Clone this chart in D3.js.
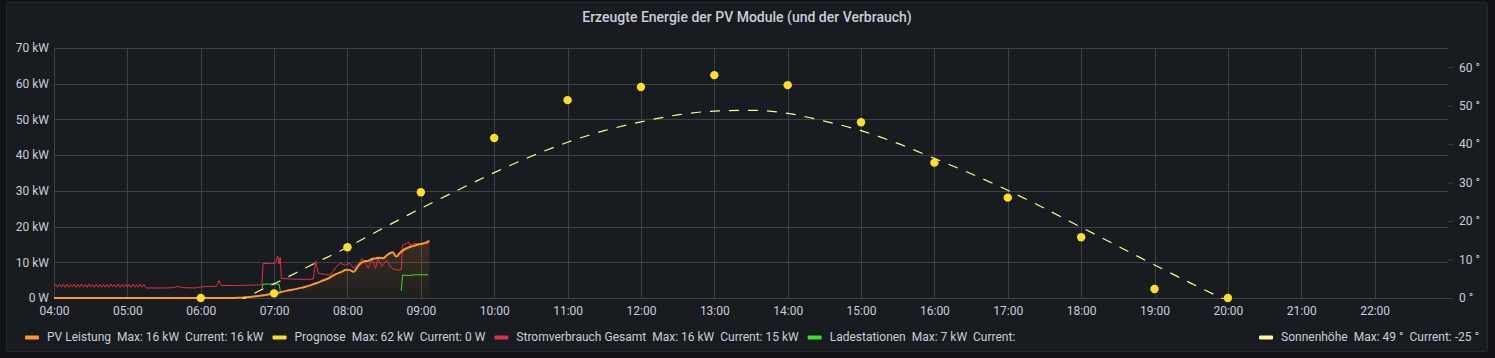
<!DOCTYPE html>
<html>
<head>
<meta charset="utf-8">
<script src="https://cdn.jsdelivr.net/npm/d3@7"></script>
<style>
  html, body { margin: 0; padding: 0; background: #111217; }
  svg { display: block; }
  text { font-family: Roboto, "Noto Sans", sans-serif; }
</style>
</head>
<body>
<svg id="chart" width="1495" height="358"></svg>
<script>
// ---------------- DATA ----------------
const chartTitle = "Erzeugte Energie der PV Module (und der Verbrauch)";
const xTickLabels = ["04:00","05:00","06:00","07:00","08:00","09:00","10:00","11:00","12:00","13:00","14:00","15:00","16:00","17:00","18:00","19:00","20:00","21:00","22:00"];
const xDomain = ["04:00", "23:00"];
const leftTicks = [0, 10, 20, 30, 40, 50, 60, 70];      // kW
const rightTicks = [0, 10, 20, 30, 40, 50, 60];         // degrees
const leftMax = 70;
const rightMax = 65;

// PV Leistung [time, kW]
const pvLeistung = [
  ["04:00",0],["06:25",0],["06:30",0.05],["06:35",0.15],["06:40",0.3],["06:45",0.5],["06:50",0.7],["06:55",0.95],
  ["07:00",1.2],["07:05",1.6],["07:10",2.0],["07:15",2.3],["07:20",2.7],["07:25",3.1],["07:30",3.6],["07:35",4.2],
  ["07:40",4.9],["07:45",5.6],["07:50",6.6],["07:55",7.3],["07:59",7.9],["08:02",7.8],["08:05",7.3],["08:08",8.6],
  ["08:11",9.8],["08:14",10.3],["08:17",10.4],["08:20",10.9],["08:23",11.1],["08:26",11.3],["08:29",11.1],
  ["08:32",11.9],["08:35",12.6],["08:37",12.8],["08:40",11.6],["08:43",12.7],["08:46",13.5],["08:49",14.0],
  ["08:52",14.4],["08:55",14.7],["08:58",15.0],["09:01",15.2],["09:04",15.5],["09:07",16.0]
];

// Prognose (hourly points) [time, kW]
const prognose = [
  ["06:00",0],["07:00",1.3],["08:00",14.2],["09:00",29.6],["10:00",44.8],["11:00",55.4],["12:00",59.1],
  ["13:00",62.4],["14:00",59.6],["15:00",49.2],["16:00",37.9],["17:00",28.1],["18:00",17.0],["19:00",2.5],["20:00",0]
];

// Stromverbrauch Gesamt: early ripple section sampled every 90 s from 04:00 (kW)
const stromRippleStart = "04:00";
const stromRippleStepMin = 1.5;
const stromRipple = [
  3.2,3.8,3.0,3.9,3.0,3.8,3.0,3.9,3.0,3.8,3.1,3.9,3.0,3.8,3.0,3.9,3.0,3.8,3.0,3.9,
  3.1,3.8,3.0,3.9,3.0,3.8,3.0,3.9,3.0,3.8,3.0,3.9,3.1,3.8,3.0,3.9,3.0,3.8,3.0,3.9,
  3.0,3.8,3.0,3.9,3.0,3.8,3.0,3.9,3.0,3.8,2.9
];
// Stromverbrauch Gesamt after the ripple [time, kW]
const stromRest = [
  ["05:16",2.8],["05:30",2.8],["05:37",2.9],["05:41",3.2],["05:46",2.9],["05:55",2.8],["06:00",3.1],["06:05",3.2],
  ["06:13",3.3],["06:15",4.9],["06:17",3.5],["06:30",3.5],["06:40",3.6],["06:50",3.7],["06:51",9.7],["06:58",9.6],
  ["07:01",9.8],["07:03",11.8],["07:04",9.5],["07:05",11.4],["07:06",5.5],["07:15",5.3],["07:25",5.2],["07:32",5.3],
  ["07:34",10.4],["07:36",6.9],["07:42",6.6],["07:46",6.4],["07:48",7.4],["07:51",8.8],["07:54",9.7],["07:58",9.2],
  ["08:02",9.7],["08:05",8.3],["08:09",9.7],["08:12",11.1],["08:14",10.2],["08:17",8.3],["08:20",10.8],["08:23",8.3],
  ["08:25",11.1],["08:28",8.8],["08:32",10.6],["08:35",8.8],["08:38",8.0],["08:42",7.8],["08:44",8.0],["08:45",14.8],
  ["08:48",15.2],["08:50",15.8],["08:51",14.8],["08:55",15.3],["09:00",15.0],["09:02",15.1],["09:06",15.3]
];

// Ladestationen [time, kW] (null = no data)
const ladestationen = [
  ["06:50",2.6],["06:51",3.9],["07:04",3.9],["07:05",2.1],["07:06",null],
  ["08:44",2.0],["08:45",6.4],["08:50",6.3],["08:55",6.5],["09:06",6.5]
];

// Sonnenhöhe [time, degrees]
const sonnenhoehe = [
  ["06:30",-1.0],["06:50",2.2],["07:00",3.7],["07:30",8.5],["08:00",13.2],["08:30",18.3],["09:00",23.3],["09:30",28.0],
  ["10:00",32.6],["10:30",36.8],["11:00",40.5],["11:30",43.5],["12:00",45.8],["12:30",47.6],["13:00",48.6],
  ["13:30",48.8],["14:00",48.0],["14:30",46.0],["15:00",43.5],["15:30",40.2],["16:00",36.3],["16:30",32.3],
  ["17:00",28.0],["17:30",23.3],["18:00",18.4],["18:30",13.5],["19:00",8.6],["19:30",3.8],["20:00",-0.8],["20:15",-3.0]
];

// Legend
const legendLeft = [
  { name: "PV Leistung", max: "Max: 16 kW", cur: "Current: 16 kW", color: "#FF9830" },
  { name: "Prognose", max: "Max: 62 kW", cur: "Current: 0 W", color: "#FADE2A" },
  { name: "Stromverbrauch Gesamt", max: "Max: 16 kW", cur: "Current: 15 kW", color: "#E02F44" },
  { name: "Ladestationen", max: "Max: 7 kW", cur: "Current:", color: "#2EE82E" }
];
const legendRight = { name: "Sonnenhöhe", max: "Max: 49 °", cur: "Current: -25 °", color: "#FFF899" };

// ---------------- DRAW ----------------
const W = 1495, H = 358;
const plot = { left: 54, right: 1448, top: 48, bottom: 298 };
const textColor = "#ccccdc";
const gridColor = "#3f4046";

const parseT = d3.timeParse("%Y-%m-%d %H:%M");
const T = s => parseT("2023-06-01 " + s);

const x = d3.scaleTime().domain(xDomain.map(T)).range([plot.left, plot.right]);
const yL = d3.scaleLinear().domain([0, leftMax]).range([plot.bottom, plot.top]);
const yR = d3.scaleLinear().domain([0, rightMax]).range([plot.bottom, plot.top]);

const svg = d3.select("#chart");

// panel
svg.append("rect").attr("x", 0).attr("y", 0).attr("width", W).attr("height", H).attr("fill", "#111217");
svg.append("rect").attr("x", 6.5).attr("y", 2.5).attr("width", 1481).attr("height", 349)
  .attr("rx", 2).attr("fill", "#181b1f").attr("stroke", "#26282d");

// title
svg.append("text").attr("x", 747).attr("y", 22).attr("text-anchor", "middle")
  .attr("fill", textColor).attr("font-size", 14).attr("font-weight", 500)
  .text(chartTitle);

// grid
const xTickDates = xTickLabels.map(T);
const gGrid = svg.append("g");
gGrid.selectAll("line.h").data(leftTicks).join("line")
  .attr("x1", plot.left).attr("x2", plot.right)
  .attr("y1", d => Math.round(yL(d)) + 0.5).attr("y2", d => Math.round(yL(d)) + 0.5)
  .attr("stroke", gridColor).attr("stroke-width", 1);
gGrid.selectAll("line.v").data(xTickDates).join("line")
  .attr("x1", d => Math.round(x(d)) + 0.5).attr("x2", d => Math.round(x(d)) + 0.5)
  .attr("y1", plot.top).attr("y2", plot.bottom)
  .attr("stroke", gridColor).attr("stroke-width", 1);

// axes
const fmtKW = d => d === 0 ? "0 W" : d + " kW";
const axL = svg.append("g").attr("transform", `translate(${plot.left - 5},0)`)
  .call(d3.axisLeft(yL).tickValues(leftTicks).tickFormat(fmtKW).tickSize(0).tickPadding(0));
const axR = svg.append("g").attr("transform", `translate(${plot.right},0)`)
  .call(d3.axisRight(yR).tickValues(rightTicks).tickFormat(d => d + " °").tickSize(5).tickPadding(6));
const axB = svg.append("g").attr("transform", `translate(0,${plot.bottom + 8})`)
  .call(d3.axisBottom(x).tickValues(xTickDates).tickFormat(d3.timeFormat("%H:%M")).tickSize(0).tickPadding(0));
[axL, axR, axB].forEach(a => {
  a.select(".domain").remove();
  a.selectAll("text").attr("fill", textColor).attr("font-size", 12).attr("font-family", "Roboto, sans-serif");
  a.selectAll("line").attr("stroke", gridColor);
});
axB.selectAll("text").attr("dy", "0.71em");

// clip
svg.append("defs").append("clipPath").attr("id", "clip")
  .append("rect").attr("x", plot.left).attr("y", plot.top)
  .attr("width", plot.right - plot.left).attr("height", plot.bottom - plot.top + 1);

const grad = svg.select("defs").append("linearGradient").attr("id", "pvgrad")
  .attr("gradientUnits", "userSpaceOnUse")
  .attr("x1", 0).attr("x2", 0).attr("y1", yL(16)).attr("y2", plot.bottom);
grad.append("stop").attr("offset", 0).attr("stop-color", "#FF9830").attr("stop-opacity", 0.16);
grad.append("stop").attr("offset", 1).attr("stop-color", "#FF9830").attr("stop-opacity", 0.03);

const gPlot = svg.append("g").attr("clip-path", "url(#clip)");

// PV area
const pvData = pvLeistung.map(d => ({ t: T(d[0]), v: d[1] }));
gPlot.append("path").datum(pvData)
  .attr("d", d3.area().x(d => x(d.t)).y0(yL(0)).y1(d => yL(d.v)).curve(d3.curveMonotoneX))
  .attr("fill", "url(#pvgrad)");

// Stromverbrauch
const rippleStart = T(stromRippleStart);
const stromData = stromRipple.map((v, i) => ({ t: d3.timeSecond.offset(rippleStart, Math.round(i * stromRippleStepMin * 60)), v }))
  .concat(stromRest.map(d => ({ t: T(d[0]), v: d[1] })));
gPlot.append("path").datum(stromData)
  .attr("d", d3.line().x(d => x(d.t)).y(d => yL(d.v)))
  .attr("fill", "none").attr("stroke", "#E02F44").attr("stroke-width", 1).attr("stroke-linejoin", "round");

// Ladestationen
const ladeData = ladestationen.map(d => ({ t: T(d[0]), v: d[1] }));
gPlot.append("path").datum(ladeData)
  .attr("d", d3.line().defined(d => d.v != null).x(d => x(d.t)).y(d => yL(d.v)))
  .attr("fill", "none").attr("stroke", "#2EE82E").attr("stroke-width", 1);

// PV line
gPlot.append("path").datum(pvData)
  .attr("d", d3.line().x(d => x(d.t)).y(d => yL(d.v)).curve(d3.curveMonotoneX))
  .attr("fill", "none").attr("stroke", "#FF9830").attr("stroke-width", 2).attr("stroke-linejoin", "round");

// Sonnenhöhe dashed
const sunData = sonnenhoehe.map(d => ({ t: T(d[0]), v: d[1] }));
gPlot.append("path").datum(sunData)
  .attr("d", d3.line().x(d => x(d.t)).y(d => yR(d.v)).curve(d3.curveMonotoneX))
  .attr("fill", "none").attr("stroke", "#FFF899").attr("stroke-width", 1.2).attr("stroke-dasharray", "10,9");

// Prognose points
svg.append("g").selectAll("circle").data(prognose).join("circle")
  .attr("cx", d => x(T(d[0]))).attr("cy", d => yL(d[1])).attr("r", 4.2)
  .attr("fill", "#FADE2A");

// legend
const legY = 337;
const gLeg = svg.append("g").attr("font-size", 12).attr("fill", textColor);
function legendItem(g, item, x0) {
  g.append("rect").attr("x", x0).attr("y", legY - 1.5).attr("width", 14).attr("height", 4).attr("rx", 1).attr("fill", item.color);
  let cx = x0 + 22;
  const parts = [item.name, item.max, item.cur];
  parts.forEach(p => {
    const t = g.append("text").attr("x", cx).attr("y", legY).attr("dy", "0.35em").attr("fill", textColor).text(p);
    cx += t.node().getComputedTextLength() + 6;
  });
  return cx - 6;
}
let lx = 25;
legendLeft.forEach(item => { lx = legendItem(gLeg, item, lx) + 9; });

// right legend, right aligned at 1479
const gR = svg.append("g").attr("font-size", 12);
const endX = legendItem(gR, legendRight, 0);
gR.attr("transform", `translate(${1479 - endX},0)`);
</script>
</body>
</html>
